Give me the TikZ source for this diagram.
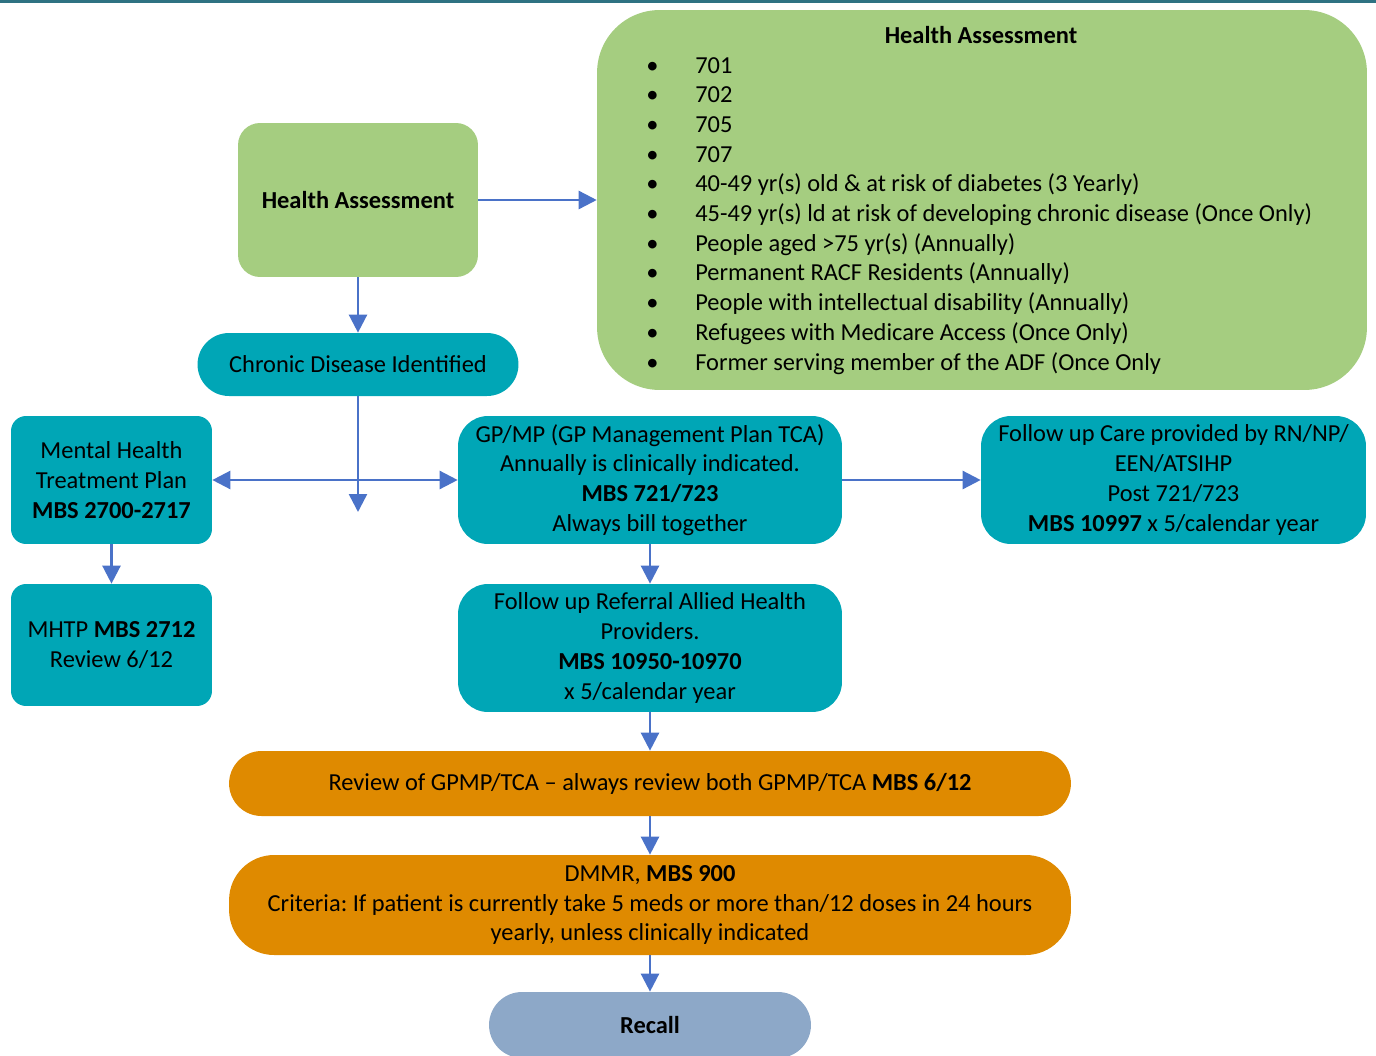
\documentclass[tikz,border=0pt]{standalone}
\usepackage{fontspec}
\setmainfont{Carlito}
\usepackage{tikz}
\usetikzlibrary{arrows.meta}
\frenchspacing

\definecolor{hagreen}{HTML}{A5CD80}
\definecolor{cdteal}{HTML}{00A6B6}
\definecolor{rvorange}{HTML}{DF8A00}
\definecolor{rcblue}{HTML}{8DA8C8}
\definecolor{arblue}{HTML}{4A72C8}
\definecolor{topline}{HTML}{2F7282}

\begin{document}
\begin{tikzpicture}[x=0.02cm, y=-0.02cm,
    box/.style={align=center, inner sep=2pt, font=\fontsize{13.9}{16.9}\selectfont},
    greenbox/.style={box, fill=hagreen},
    tealbox/.style={box, fill=cdteal},
    orangebox/.style={box, fill=rvorange},
    arr/.style={draw=arblue, line width=1.4pt, -{Triangle[length=0.36cm, width=0.36cm]}},
    darr/.style={arr, {Triangle[length=0.36cm, width=0.36cm]}-{Triangle[length=0.36cm, width=0.36cm]}}]
          \useasboundingbox (0,0) rectangle (1376,1055);
          \draw[topline, line width=0.06cm] (0,1) -- (1376,1);

          % health assessment
          \node[greenbox, rounded corners=0.44cm, minimum width=4.8cm, minimum height=3.08cm] (ha) at (358,200) {\textbf{Health Assessment}};
          \node[greenbox, rounded corners=1.25cm, minimum width=15.4cm, minimum height=7.6cm] (halist) at (982,200) {};
          \node[box] (hatitle) at (981,35) {\textbf{Health Assessment}};
          \node[box, inner sep=0pt, anchor=north west] (haitems) at (646,52) {%
            \begin{tabular}{@{}p{0.98cm}@{}l@{}}
            \textbullet & 701\\
            \textbullet & 702\\
            \textbullet & 705\\
            \textbullet & 707\\
            \textbullet & 40-49 yr(s) old \& at risk of diabetes (3 Yearly)\\
            \textbullet & 45-49 yr(s) ld at risk of developing chronic disease (Once Only)\\
            \textbullet & People aged >75 yr(s) (Annually)\\
            \textbullet & Permanent RACF Residents (Annually)\\
            \textbullet & People with intellectual disability (Annually)\\
            \textbullet & Refugees with Medicare Access (Once Only)\\
            \textbullet & Former serving member of the ADF (Once Only
            \end{tabular}};

          % chronic disease and plans
          \node[tealbox, rounded corners=0.63cm, minimum width=6.42cm, minimum height=1.26cm] (chronic) at (358,364.5) {Chronic Disease Identified};
          \coordinate (cdend) at (358,512);
          \node[tealbox, rounded corners=0.3cm, minimum width=4.02cm, minimum height=2.56cm] (mhtp) at (111.5,480) {Mental Health\\Treatment Plan\\\textbf{MBS 2700-2717}};
          \node[tealbox, rounded corners=0.3cm, minimum width=4.02cm, minimum height=2.44cm] (mhtprev) at (111.5,645) {MHTP \textbf{MBS 2712}\\Review 6/12};
          \node[tealbox, rounded corners=0.6cm, minimum width=7.68cm, minimum height=2.56cm] (gpmp) at (650,480) {GP/MP (GP Management Plan TCA)\\Annually is clinically indicated.\\\textbf{MBS 721/723}\\Always bill together};
          \node[tealbox, rounded corners=0.6cm, minimum width=7.7cm, minimum height=2.56cm] (fucare) at (1173.5,480) {Follow up Care provided by RN/NP/\\EEN/ATSIHP\\Post 721/723\\\textbf{MBS 10997} x 5/calendar year};
          \node[tealbox, rounded corners=0.6cm, minimum width=7.68cm, minimum height=2.56cm] (allied) at (650,648) {Follow up Referral Allied Health\\Providers.\\\textbf{MBS 10950-10970}\\x 5/calendar year};

          % reviews
          \node[orangebox, rounded corners=0.65cm, minimum width=16.84cm, minimum height=1.3cm] (review) at (650,783.5) {Review of GPMP/TCA -- always review both GPMP/TCA \textbf{MBS 6/12}};
          \node[orangebox, rounded corners=0.9cm, minimum width=16.84cm, minimum height=2cm] (dmmr) at (650,905) {DMMR, \textbf{MBS 900}\\Criteria: If patient is currently take 5 meds or more than/12 doses in 24 hours\\yearly, unless clinically indicated};
          \node[box, fill=rcblue, rounded corners=0.66cm, minimum width=6.44cm, minimum height=1.32cm] (recall) at (650,1025) {\textbf{Recall}};

          \draw[arr] (ha) -- (halist);
          \draw[arr] (ha) -- (chronic);
          \draw[arr] (chronic) -- (cdend);
          \draw[darr] (mhtp) -- (gpmp);
          \draw[arr] (mhtp) -- (mhtprev);
          \draw[arr] (gpmp) -- (fucare);
          \draw[arr] (gpmp) -- (allied);
          \draw[arr] (allied) -- (review);
          \draw[arr] (review) -- (dmmr);
          \draw[arr] (dmmr) -- (recall);
        \end{tikzpicture}
\end{document}
